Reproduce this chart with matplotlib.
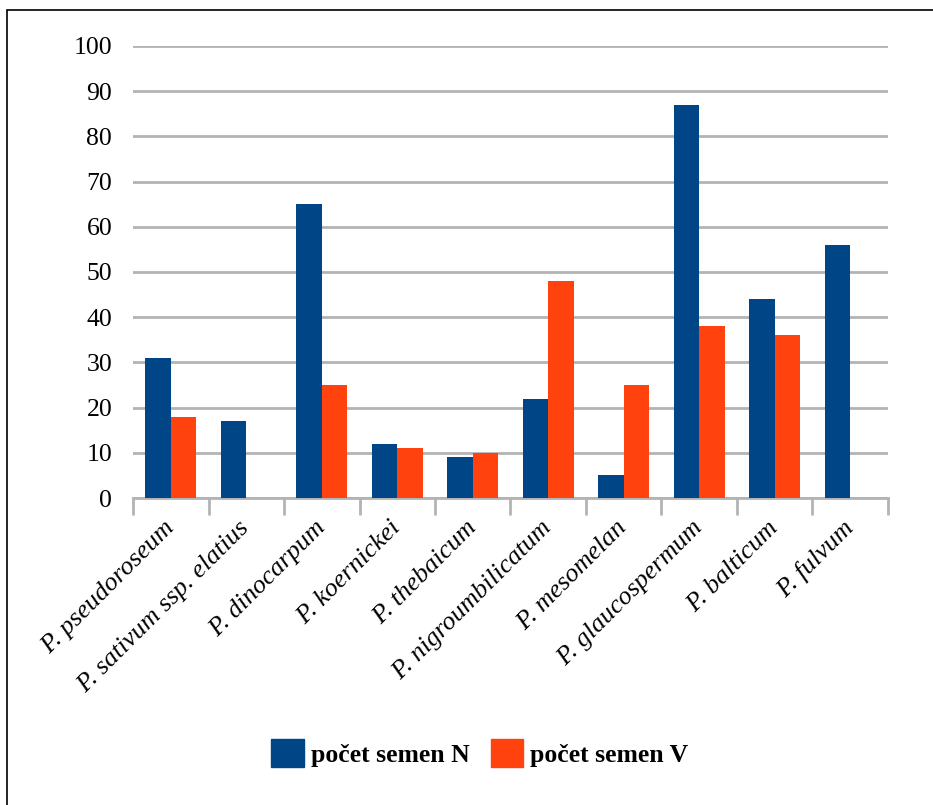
import matplotlib
matplotlib.use("Agg")
import matplotlib.pyplot as plt
from matplotlib.patches import Patch, Rectangle
import numpy as np

species = [
    "P. pseudoroseum",
    "P. sativum ssp. elatius",
    "P. dinocarpum",
    "P. koernickei",
    "P. thebaicum",
    "P. nigroumbilicatum",
    "P. mesomelan",
    "P. glaucospermum",
    "P. balticum",
    "P. fulvum",
]
seeds_n = [31, 17, 65, 12, 9, 22, 5, 87, 44, 56]
seeds_v = [18, 0, 25, 11, 10, 48, 25, 38, 36, 0]
series_names = ["počet semen N", "počet semen V"]
y_ticks = [0, 10, 20, 30, 40, 50, 60, 70, 80, 90, 100]

BLUE = "#004586"
ORANGE = "#ff420e"
GRID = "#b3b3b3"

plt.rcParams["font.family"] = ["Liberation Serif", "DejaVu Serif"]

W, H = 933, 805
fig = plt.figure(figsize=(W / 100, H / 100), dpi=100)
ax = fig.add_axes([133 / W, 1 - 498 / H, (888 - 133) / W, (498 - 46) / H])

x = np.arange(len(species))
bw = 0.34
ax.bar(x - bw / 2, seeds_n, width=bw, color=BLUE, zorder=3, label=series_names[0])
ax.bar(x + bw / 2, seeds_v, width=bw, color=ORANGE, zorder=3, label=series_names[1])

ax.set_xlim(-0.5, len(species) - 0.5)
ax.set_ylim(0, 100)
ax.set_yticks(y_ticks)
ax.set_yticklabels([str(v) for v in y_ticks], fontsize=18.5)
ax.tick_params(axis="y", length=0, pad=15)
ax.yaxis.grid(True, color=GRID, linewidth=2, zorder=0)

# boundary ticks between categories, labels at category centres
ax.set_xticks(np.arange(len(species) + 1) - 0.5)
ax.set_xticklabels([])
ax.tick_params(axis="x", which="major", length=12, width=2, color=GRID)
ax.set_xticks(x, minor=True)
ax.set_xticklabels(species, minor=True, rotation=45, ha="right", va="center",
                   rotation_mode="anchor", fontsize=19, fontstyle="italic")
ax.tick_params(axis="x", which="minor", length=0, pad=19)

for side in ("top", "right", "left"):
    ax.spines[side].set_visible(False)
ax.spines["bottom"].set_color(GRID)
ax.spines["bottom"].set_linewidth(2)

handles = [Patch(facecolor=BLUE, edgecolor=BLUE), Patch(facecolor=ORANGE, edgecolor=ORANGE)]
fig.legend(handles, series_names, loc="center", bbox_to_anchor=(480 / W, 1 - 753 / H),
           ncol=2, frameon=False, handlelength=1.25, handleheight=1.25,
           handletextpad=0.3, columnspacing=0.8,
           prop={"family": "Liberation Serif", "weight": "bold", "size": 18.5})

# outer frame of the chart area
fig.patches.append(Rectangle((7 / W, -0.1), 1.2, 1 - 10 / H + 0.1,
                             transform=fig.transFigure, fill=False,
                             edgecolor="black", linewidth=1.2))

fig.savefig("out.png", dpi=100)
